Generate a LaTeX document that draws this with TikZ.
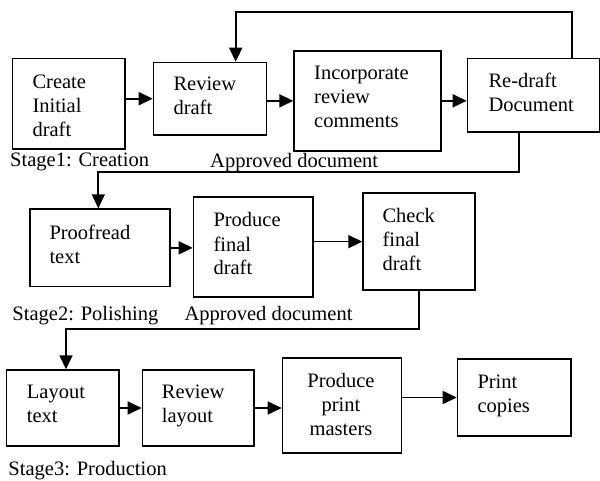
\documentclass[tikz,border=0pt]{standalone}
\usepackage{fontspec}
\setmainfont{Liberation Serif}
\usetikzlibrary{arrows.meta}
\begin{document}
\begin{tikzpicture}[x=1pt,y=-1pt,
  box/.style={draw=black,line width=1.7pt,anchor=north west,inner sep=0pt,rectangle},
  txt/.style={anchor=base west,inner sep=0pt,align=left,font=\fontsize{20.5}{24}\selectfont},
  lbl/.style={anchor=base west,inner sep=0pt,font=\fontsize{20.5}{24}\selectfont},
  arr/.style={line width=1.7pt,-{Triangle[length=14pt,width=13pt]}}]
\useasboundingbox (0,0) rectangle (600,481);
% boxes
\node[box,minimum width=112.6pt,minimum height=90.6pt] (create) at (11.7,57.7) {};
\node[box,minimum width=113pt,minimum height=72.3pt] (review) at (152.7,61.7) {};
\node[box,minimum width=146.7pt,minimum height=100pt] (incorp) at (293.3,50) {};
\node[box,minimum width=131.8pt,minimum height=73.3pt] (redraft) at (466.7,57.7) {};
\node[box,minimum width=140pt,minimum height=77.4pt] (proof) at (29,208.3) {};
\node[box,minimum width=119.6pt,minimum height=100pt] (prodfin) at (192.7,196) {};
\node[box,minimum width=112pt,minimum height=97pt] (check) at (362.3,192.3) {};
\node[box,minimum width=112.6pt,minimum height=75.7pt] (layout) at (5.7,369.3) {};
\node[box,minimum width=111.6pt,minimum height=75.7pt] (revlay) at (141.7,369.3) {};
\node[box,minimum width=119pt,minimum height=95pt] (prodprint) at (281.7,357.3) {};
\node[box,minimum width=113.3pt,minimum height=76.7pt] (print) at (456.7,358.3) {};
% box texts (anchored at the baseline of the last line)
\node[txt] (createT) at (32.3,136.7) {Create\\Initial\\draft};
\node[txt] (reviewT) at (173.3,114.7) {Review\\draft};
\node[txt] (incorpT) at (314,127.7) {Incorporate\\review\\comments};
\node[txt] (redraftT) at (488.3,111.7) {Re-draft\\Document};
\node[txt] (proofT) at (49.3,263.3) {Proofread\\text};
\node[txt] (prodfinT) at (213.3,275) {Produce\\final\\draft};
\node[txt] (checkT) at (382.3,270.7) {Check\\final\\draft};
\node[txt] (layoutT) at (26.7,422.7) {Layout\\text};
\node[txt] (revlayT) at (161.7,422.7) {Review\\layout};
\node[txt,anchor=base,align=center] (prodprintT) at (341,435) {Produce\\print\\masters};
\node[txt] (printT) at (477.3,412.3) {Print\\copies};
% stage labels
\node[lbl] (stage1) at (10,166.7) {Stage1: Creation};
\node[lbl] (appr1) at (210,168) {Approved document};
\node[lbl] (stage2) at (12.3,320) {Stage2: Polishing};
\node[lbl] (appr2) at (184.3,320) {Approved document};
\node[lbl] (stage3) at (8.3,475) {Stage3: Production};
% helper coordinates
\coordinate (fb1) at (572.3,11.7);
\coordinate (fb2) at (235.7,11.7);
\coordinate (a1) at (519,172.3);
\coordinate (a2) at (98.3,172.3);
\coordinate (b1) at (419.3,329);
\coordinate (b2) at (66,329);
% connectors
\draw[arr] (create.east |- review.west) -- (review.west);
\draw[arr] (review.east |- incorp.west) -- (incorp.west);
\draw[arr] (incorp.east) -- (incorp.east -| redraft.west);
\draw[arr] (redraft.north -| fb1) -- (fb1) -- (fb2) -- (review.north -| fb2);
\draw[arr] (redraft.south -| a1) -- (a1) -- (a2) -- (proof.north -| a2);
\draw[arr] (proof.east) -- (proof.east -| prodfin.west);
\draw[arr] (check.west -| prodfin.east) -- (check.west);
\draw[arr] (check.south -| b1) -- (b1) -- (b2) -- (layout.north -| b2);
\draw[arr] (layout.east) -- (layout.east -| revlay.west);
\draw[arr] (revlay.east) -- (revlay.east -| prodprint.west);
\draw[arr] (print.west -| prodprint.east) -- (print.west);
\end{tikzpicture}
\end{document}
